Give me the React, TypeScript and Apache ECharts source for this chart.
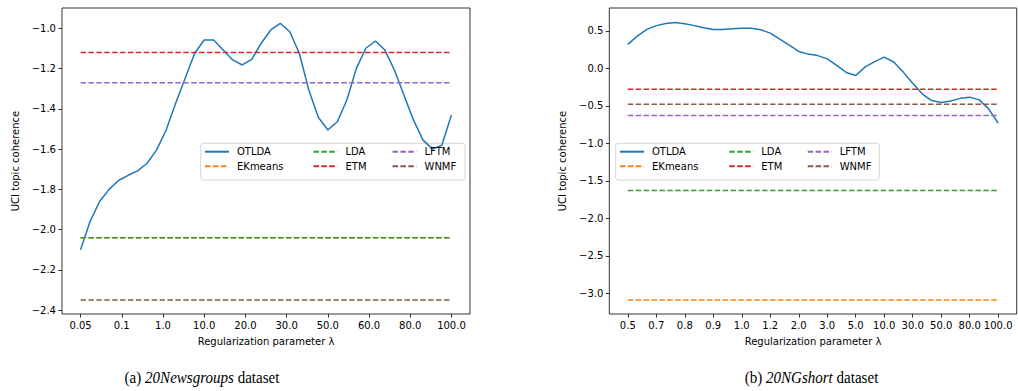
import React, { useEffect, useRef } from "react";
import * as echarts from "echarts";

// ---- data ----
const xLabelsA = ["0.05", "0.1", "1.0", "10.0", "20.0", "30.0", "50.0", "60.0", "80.0", "100.0"];
const xLabelsB = ["0.5", "0.7", "0.8", "0.9", "1.0", "1.2", "2.0", "3.0", "5.0", "10.0", "30.0", "50.0", "80.0", "100.0"];

// OTLDA curve, 40 evenly spaced samples across the tick range
const otldaA = [
  -2.1, -1.96, -1.86, -1.8, -1.756, -1.73, -1.708, -1.67, -1.604, -1.505,
  -1.372, -1.248, -1.124, -1.058, -1.058, -1.108, -1.157, -1.182, -1.154, -1.074,
  -1.008, -0.975, -1.017, -1.124, -1.306, -1.442, -1.505, -1.464, -1.356, -1.199,
  -1.099, -1.063, -1.108, -1.207, -1.331, -1.455, -1.554, -1.6, -1.58, -1.43,
];
const otldaB = [
  0.32, 0.43, 0.52, 0.57, 0.597, 0.611, 0.595, 0.57, 0.542, 0.518,
  0.518, 0.527, 0.536, 0.534, 0.515, 0.47, 0.39, 0.31, 0.225, 0.19,
  0.17, 0.127, 0.04, -0.055, -0.096, 0.02, 0.09, 0.149, 0.085, -0.05,
  -0.2, -0.34, -0.43, -0.455, -0.435, -0.4, -0.384, -0.42, -0.54, -0.731,
];

const baselineNames = ["EKmeans", "LDA", "ETM", "LFTM", "WNMF"];
const baselineA = [-2.04, -2.04, -1.12, -1.27, -2.35];
const baselineB = [-3.09, -1.63, -0.28, -0.63, -0.48];

const yTicksA = [-2.4, -2.2, -2.0, -1.8, -1.6, -1.4, -1.2, -1.0];
const yTicksB = [-3.0, -2.5, -2.0, -1.5, -1.0, -0.5, 0.0, 0.5];

const colors = ["#1f77b4", "#ff7f0e", "#2ca02c", "#d62728", "#9467bd", "#8c564b"];
const FONT = "DejaVu Sans";

function fmtY(v: number) {
  return v.toFixed(1).replace("-", "\u2212");
}

export default function App() {
  const ref = useRef<HTMLDivElement>(null);
  useEffect(() => {
    if (!ref.current) return;
    const chart = echarts.init(ref.current, undefined, { renderer: "svg" });

    const nA = xLabelsA.length - 1;
    const nB = xLabelsB.length - 1;
    const curveA = otldaA.map((v, i) => [(i * nA) / (otldaA.length - 1), v]);
    const curveB = otldaB.map((v, i) => [(i * nB) / (otldaB.length - 1), v]);

    const xAxisBase = (n: number, labels: string[], gridIndex: number) => ({
      type: "value",
      gridIndex,
      min: -0.05 * n,
      max: n + 0.05 * n,
      axisLine: { show: false, onZero: false },
      splitLine: { show: false },
      axisTick: {
        show: true,
        length: 3.5,
        customValues: labels.map((_, i) => i),
        lineStyle: { color: "#000", width: 0.8 },
      },
      axisLabel: {
        customValues: labels.map((_, i) => i),
        formatter: (v: number) => labels[Math.round(v)],
        margin: 6,
        color: "#000",
        fontFamily: FONT,
        fontSize: 10,
      },
      name: "Regularization parameter \u03bb",
      nameLocation: "middle",
      nameGap: 22,
      nameTextStyle: { color: "#000", fontFamily: FONT, fontSize: 10 },
    });

    const yAxisBase = (min: number, max: number, ticks: number[], gridIndex: number) => ({
      type: "value",
      gridIndex,
      min,
      max,
      axisLine: { show: false, onZero: false },
      splitLine: { show: false },
      axisTick: {
        show: true,
        length: 3.5,
        customValues: ticks,
        lineStyle: { color: "#000", width: 0.8 },
      },
      axisLabel: {
        customValues: ticks,
        formatter: (v: number) => fmtY(v),
        margin: 6,
        color: "#000",
        fontFamily: FONT,
        fontSize: 10,
      },
      name: "UCI topic coherence",
      nameLocation: "middle",
      nameGap: 42,
      nameTextStyle: { color: "#000", fontFamily: FONT, fontSize: 10 },
    });

    const series: any[] = [];
    const addSet = (curve: number[][], base: number[], n: number, idx: number) => {
      series.push({
        type: "line",
        name: "OTLDA",
        xAxisIndex: idx,
        yAxisIndex: idx,
        data: curve,
        symbol: "none",
        lineStyle: { color: colors[0], width: 1.5 },
        itemStyle: { color: colors[0], opacity: 0 },
      });
      baselineNames.forEach((nm, k) => {
        series.push({
          type: "line",
          name: nm,
          xAxisIndex: idx,
          yAxisIndex: idx,
          data: [
            [0, base[k]],
            [n, base[k]],
          ],
          symbol: "none",
          lineStyle: { color: colors[k + 1], width: 1.5, type: [5.5, 2.4] },
          itemStyle: { color: colors[k + 1], opacity: 0 },
        });
      });
    };
    addSet(curveA, baselineA, nA, 0);
    addSet(curveB, baselineB, nB, 1);

    const legendCols = [
      ["OTLDA", "EKmeans"],
      ["LDA", "ETM"],
      ["LFTM", "WNMF"],
    ];
    const legendLeftA = [204, 312.5, 391.5];
    const legendLeftB = [619, 728.3, 806.7];
    const legends: any[] = [];
    [legendLeftA, legendLeftB].forEach((lefts) => {
      legendCols.forEach((col, c) => {
        legends.push({
          orient: "vertical",
          left: lefts[c],
          top: 146.7,
          padding: 0,
          itemWidth: 24,
          itemHeight: 12,
          itemGap: 4.6,
          data: col,
          selectedMode: false,
          itemStyle: { opacity: 0 },
          textStyle: { color: "#000", fontFamily: FONT, fontSize: 10, padding: [0, 0, 0, 3] },
        });
      });
    });

    const captionStyle = (label: string, ital: string) => ({
      text: `${label} {i|${ital}} dataset`,
      fontFamily: "Liberation Serif",
      fontSize: 16,
      fill: "#000",
      align: "center",
      verticalAlign: "middle",
      rich: {
        i: { fontStyle: "italic", fontFamily: "Liberation Serif", fontSize: 16, fill: "#000" },
      },
    });

    chart.setOption({
      animation: false,
      backgroundColor: "#fff",
      grid: [
        { left: 62, top: 8, width: 408, height: 306, show: true, borderColor: "#000", borderWidth: 0.8, backgroundColor: "transparent" },
        { left: 609.3, top: 8, width: 407.4, height: 306, show: true, borderColor: "#000", borderWidth: 0.8, backgroundColor: "transparent" },
      ],
      xAxis: [xAxisBase(nA, xLabelsA, 0), xAxisBase(nB, xLabelsB, 1)],
      yAxis: [yAxisBase(-2.419, -0.899, yTicksA, 0), yAxisBase(-3.276, 0.805, yTicksB, 1)],
      legend: legends,
      series,
      graphic: [
        {
          type: "rect",
          z: 3,
          shape: { x: 200.7, y: 143.3, width: 264.3, height: 36.7, r: 2.5 },
          style: { fill: "rgba(255,255,255,0.8)", stroke: "#cccccc", lineWidth: 0.8 },
        },
        {
          type: "rect",
          z: 3,
          shape: { x: 615.7, y: 143.3, width: 263.6, height: 36.7, r: 2.5 },
          style: { fill: "rgba(255,255,255,0.8)", stroke: "#cccccc", lineWidth: 0.8 },
        },
        { type: "text", x: 202, y: 377, scaleX: 0.94, style: captionStyle("(a)", "20Newsgroups") },
        { type: "text", x: 811.5, y: 377, scaleX: 0.94, style: captionStyle("(b)", "20NGshort") },
      ],
    });
    return () => chart.dispose();
  }, []);
  return (
    <div
      ref={ref}
      style={{ position: "fixed", left: 0, top: 0, width: 1018, height: 391, background: "#fff" }}
    />
  );
}
